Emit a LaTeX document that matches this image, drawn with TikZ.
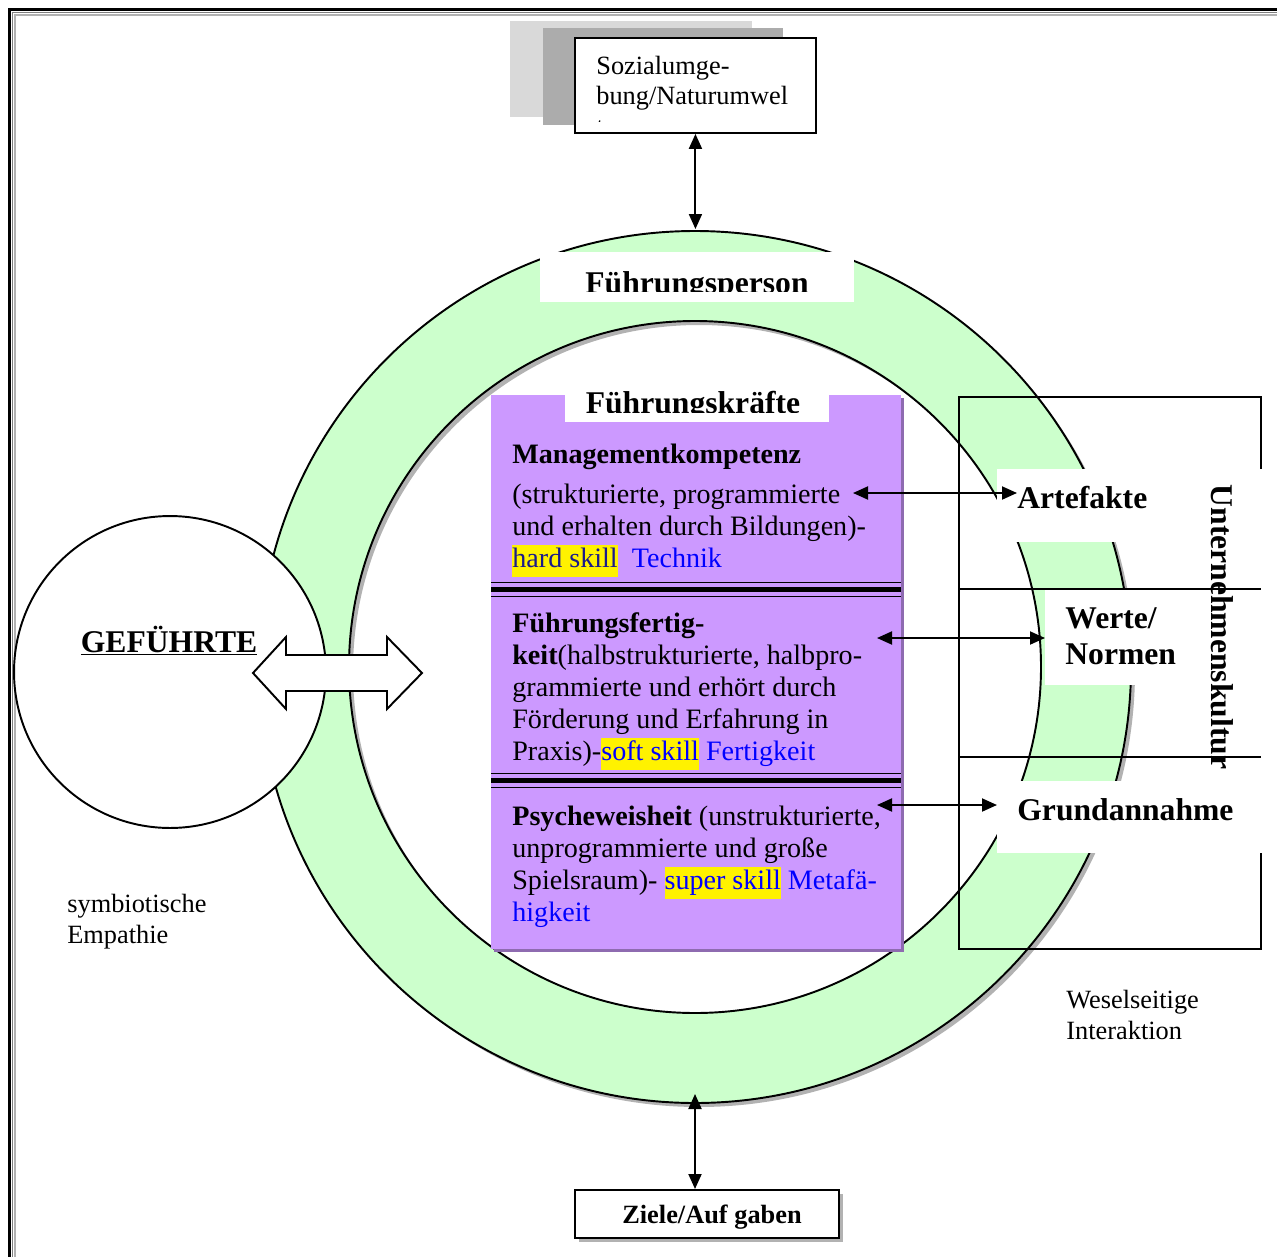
\documentclass[tikz,border=0pt]{standalone}
\usepackage{fontspec}
\setmainfont{Liberation Serif}
\usepackage{xcolor}
\usetikzlibrary{arrows.meta,positioning}
\definecolor{ringgreen}{HTML}{CCFFCC}
\definecolor{kfill}{HTML}{CC99FF}
\definecolor{kshade}{HTML}{8E6BB0}
\definecolor{skillblue}{HTML}{0000FF}
\definecolor{hardblue}{HTML}{1A1A8C}
\newcommand{\skillmark}[2]{{\setlength{\fboxsep}{0pt}\colorbox{yellow}{\strut\textcolor{#1}{#2}}}}

\begin{document}
\begin{tikzpicture}[x=0.02cm,y=-0.02cm,
          txt/.style={inner sep=0pt,font=\fontsize{15}{17.4}\selectfont,align=left},
          head/.style={inner sep=0pt,font=\fontsize{18}{20.7}\selectfont\bfseries,align=left},
          body/.style={inner sep=0pt,font=\fontsize{16}{18.2}\selectfont,align=left,anchor=north west},
          dbl/.style={{Triangle[length=0.3cm 0,width=0.26cm 0]}-{Triangle[length=0.3cm 0,width=0.26cm 0]},line width=1.1pt},
          boxed/.style={draw,fill=white,line width=1.1pt,anchor=north west,inner sep=0pt}]
        \useasboundingbox (0,0) rectangle (1277,1257);
        \draw[line width=0.06cm] (1277,9.5) -- (9.5,9.5) -- (9.5,1257);
        \draw[gray,line width=0.03cm] (1277,12.5) -- (12.5,12.5) -- (12.5,1257);
        \draw[gray!60,line width=0.03cm] (1277,15) -- (15,15) -- (15,1257);

        \fill[gray!60,even odd rule] (699,671) circle (436) (699,671) circle (346);
        \filldraw[fill=ringgreen,line width=1.1pt,even odd rule] (695,667) circle (436) (695,667) circle (346);

        \fill[white] (540,252) rectangle (854,302);
        \begin{scope}
          \clip (540,252) rectangle (854,291);
          \node[head,anchor=base] (person) at (697,293) {Führungsperson};
        \end{scope}

        \fill[gray!30] (510,21) rectangle (752,117);
        \fill[gray!65] (543,28) rectangle (783,125);
        \node[boxed,minimum width=4.82cm,minimum height=1.9cm] (sozial) at (574,37) {};
        \begin{scope}
          \clip (576,39) rectangle (813,121);
          \node[txt,anchor=north west] (sozialtxt) at (596,52.3) {\strut Sozialumge-\\bung/Naturumwel\\t};
        \end{scope}
        \coordinate (ringtop) at (sozial.south |- 0,229);
        \draw[dbl] (sozial.south) -- (ringtop);

        \fill[gray!60] (579,1194) rectangle (843,1242);
        \node[boxed,minimum width=5.28cm,minimum height=0.96cm] (ziele) at (574,1189) {};
        \node[inner sep=0pt,font=\fontsize{15}{17.4}\selectfont\bfseries,anchor=base] (zieletxt) at (712,1223) {Ziele/Auf gaben};
        \coordinate (ringbot) at (695,1094);
        \draw[dbl] (ringbot) -- (ringbot |- ziele.north);

        \node[draw,circle,fill=white,line width=1.1pt,minimum size=6.24cm,inner sep=0pt] (gefuehrte) at (170,672) {};
        \node[head,anchor=base] (gefuehrtetxt) at (169,652) {\underline{GEFÜHRTE}};
        \filldraw[fill=white,line width=1.1pt] (253,673) -- (286,637) -- (286,655) -- (387,655) -- (387,637)
          -- (422,673) -- (387,709) -- (387,691) -- (286,691) -- (286,709) -- cycle;
        \node[txt,anchor=north west] (empathie) at (67,890.8) {\strut symbiotische\\Empathie};
        \node[txt,anchor=north west] (interaktion) at (1066,986.8) {\strut Weselseitige\\Interaktion};

        \fill[kshade] (494,398) rectangle (904,952);
        \fill[kfill] (491,395) rectangle (901,949);
        \fill[white] (565,395) rectangle (829,422);
        \begin{scope}
          \clip (565,380) rectangle (829,412);
          \node[head,anchor=base] (kraefte) at (693,413) {Führungskräfte};
        \end{scope}
        \foreach \y in {589.5,780.5} {
          \draw[line width=0.09cm] (491,\y) -- (901,\y);
          \draw[line width=0.035cm] (491,\y-7) -- (901,\y-7);
          \draw[line width=0.035cm] (491,\y+7) -- (901,\y+7);
        }
        \node[body] (mgmt) at (512,440.6) {\strut\textbf{Managementkompetenz}\\[0.16cm]
          (strukturierte, programmierte\\
          und erhalten durch Bildungen)-\\
          \skillmark{hardblue}{hard skill}\ \ \textcolor{skillblue}{Technik}};
        \node[body] (fertig) at (512,609.6) {\strut\textbf{Führungsfertig-}\\
          \textbf{keit}(halbstrukturierte, halbpro-\\
          grammierte und erhört durch\\
          Förderung und Erfahrung in\\
          Praxis)-\skillmark{skillblue}{soft skill} \textcolor{skillblue}{Fertigkeit}};
        \node[body] (psyche) at (512,802.6) {\strut\textbf{Psycheweisheit} (unstrukturierte,\\
          unprogrammierte und große\\
          Spielsraum)- \skillmark{skillblue}{super skill} \textcolor{skillblue}{Metafä-}\\
          \textcolor{skillblue}{higkeit}};

        \draw[line width=1.1pt] (959,397) rectangle (1261,949);
        \fill[white] (997,469) rectangle (1263,542);
        \fill[white] (1045,590) rectangle (1263,685);
        \fill[white] (997,781) rectangle (1263,853);
        \fill[white] (1190,469) rectangle (1263,853);
        \draw[line width=1.1pt] (959,589) -- (1261,589);
        \draw[line width=1.1pt] (959,757) -- (1261,757);
        \coordinate (wbox) at (1045,590);
        \coordinate (gbox) at (997,781);
        \node[head,anchor=base west] (artefakte) at (1017,508) {Artefakte};
        \node[head,anchor=north west] (werte) at (1065,602.5) {\strut Werte/\\Normen};
        \node[head,anchor=base west] (grund) at (1017,820) {Grundannahme};
        \node[head,rotate=-90,anchor=base] (kultur) at (1211,627) {Unternehmenskultur};

        \coordinate (p1) at (853,493);
        \coordinate (p2) at (877,638);
        \coordinate (p3) at (877,805);
        \draw[dbl] (p1) -- (p1 -| artefakte.west);
        \draw[dbl] (p2) -- (p2 -| wbox);
        \draw[dbl] (p3) -- (p3 -| gbox);
      \end{tikzpicture}
\end{document}
